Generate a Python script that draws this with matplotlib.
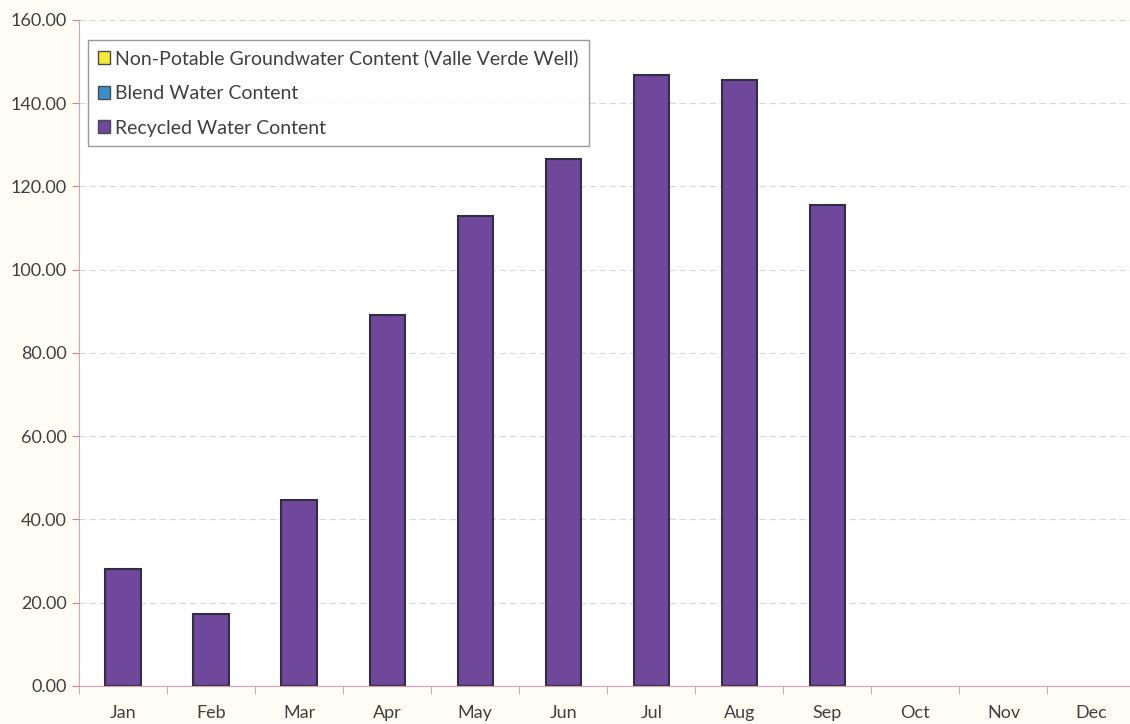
import matplotlib
matplotlib.use("Agg")
import matplotlib.pyplot as plt
from matplotlib.patches import Patch
from matplotlib.ticker import FixedLocator, NullFormatter
import numpy as np

months = ['Jan', 'Feb', 'Mar', 'Apr', 'May', 'Jun', 'Jul', 'Aug', 'Sep', 'Oct', 'Nov', 'Dec']
groundwater = [0, 0, 0, 0, 0, 0, 0, 0, 0, 0, 0, 0]
blend = [0, 0, 0, 0, 0, 0, 0, 0, 0, 0, 0, 0]
recycled = [28.1, 17.3, 44.7, 89.1, 112.9, 126.6, 146.8, 145.6, 115.6, 0, 0, 0]
y_ticks = [0, 20, 40, 60, 80, 100, 120, 140, 160]

series = [
    ('Non-Potable Groundwater Content (Valle Verde Well)', groundwater, '#f5e93a'),
    ('Blend Water Content', blend, '#3a8fc8'),
    ('Recycled Water Content', recycled, '#6f479b'),
]

plt.rcParams['font.family'] = ['Lato', 'DejaVu Sans']

fig = plt.figure(figsize=(11.3, 7.24), dpi=100, facecolor='#fffdf4')
ax = fig.add_axes([0.0699, 0.0525, 0.935, 0.9199])
ax.set_facecolor('white')

x = np.arange(len(months))
bottom = np.zeros(len(months))
handles = []
for name, vals, col in series:
    vals = np.array(vals, dtype=float)
    bars = ax.bar(x, vals, width=0.4, bottom=bottom, color=col,
                  edgecolor='#2f2f3f', linewidth=1.5)
    # empty months draw nothing
    for p, v in zip(bars.patches, vals):
        p.set_visible(v > 0)
    bottom = bottom + vals
    handles.append(Patch(facecolor=col, edgecolor='#4a4a4a', linewidth=1, label=name))

ax.set_xlim(-0.5, 11.5)
ax.set_ylim(0, 160)
ax.set_yticks(y_ticks)
ax.set_yticklabels(['{:.2f}'.format(v) for v in y_ticks])
ax.set_xticks(x)
ax.set_xticklabels(months)
ax.xaxis.set_minor_locator(FixedLocator(np.arange(-0.5, 12, 1)))
ax.xaxis.set_minor_formatter(NullFormatter())
ax.tick_params(axis='x', which='major', length=0, pad=14, labelsize=13, labelcolor='#404040')
ax.tick_params(axis='x', which='minor', length=6, color='#b0a0a0', direction='out')
ax.tick_params(axis='y', length=5, color='#d08090', labelsize=13, labelcolor='#404040', pad=4)

ax.grid(axis='y', color='#d8d8d8', linewidth=0.8, linestyle=(0, (6, 3)))
ax.set_axisbelow(True)
for s in ['top', 'right']:
    ax.spines[s].set_visible(False)
ax.spines['left'].set_color('#e0a0b0')
ax.spines['bottom'].set_color('#e0a0b0')

leg = ax.legend(handles=handles, loc='upper left', bbox_to_anchor=(0.0086, 0.97),
                borderaxespad=0, fontsize=14, frameon=True, fancybox=False,
                handlelength=0.65, handleheight=0.65, handletextpad=0.25,
                labelspacing=0.9, borderpad=0.5, labelcolor='#404040')
leg.get_frame().set_edgecolor('#808080')
leg.get_frame().set_linewidth(1)

fig.savefig('out.png', dpi=100, facecolor=fig.get_facecolor())
